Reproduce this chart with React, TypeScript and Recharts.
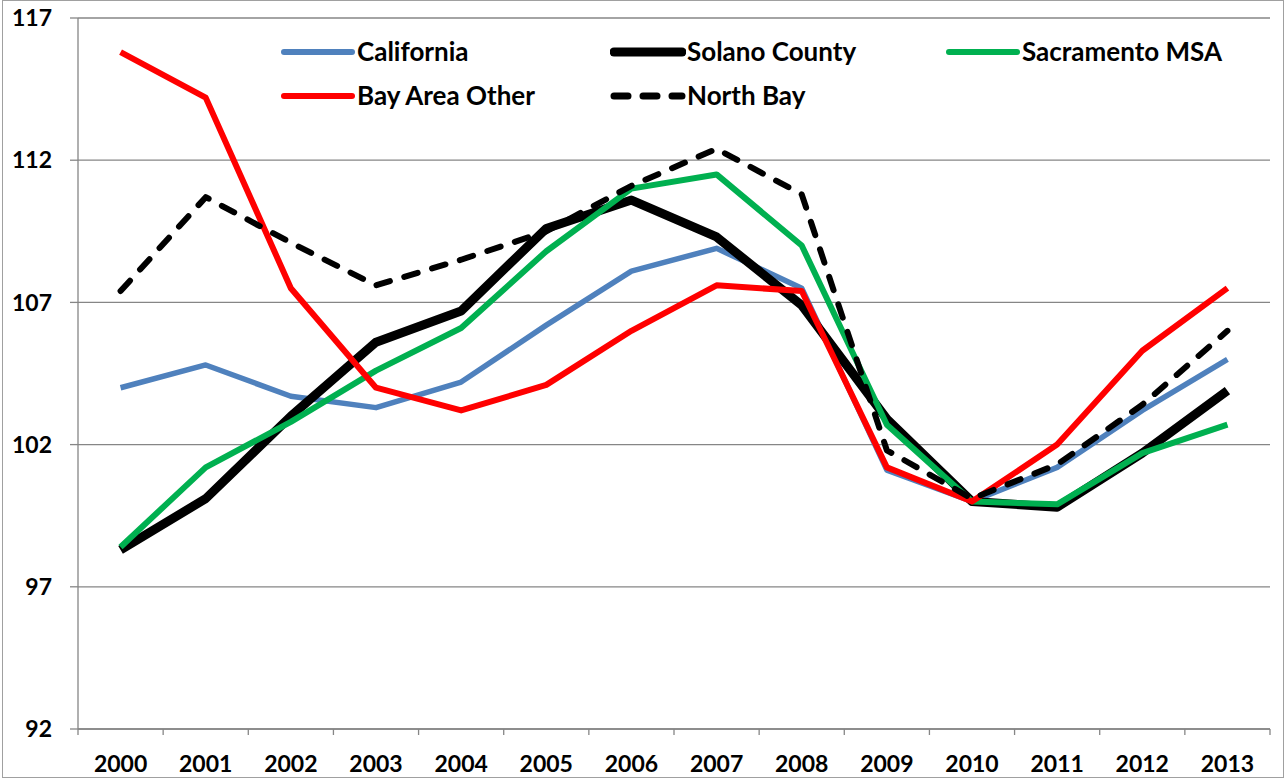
import React from "react";
import { LineChart, Line, XAxis, YAxis, CartesianGrid } from "recharts";

const years = ["2000", "2001", "2002", "2003", "2004", "2005", "2006", "2007", "2008", "2009", "2010", "2011", "2012", "2013"];
const california = [104.0, 104.8, 103.7, 103.3, 104.2, 106.2, 108.1, 108.9, 107.5, 101.1, 100.0, 101.2, 103.2, 105.0];
const solano = [98.3, 100.1, 103.0, 105.6, 106.7, 109.6, 110.6, 109.3, 106.9, 102.9, 100.0, 99.8, 101.7, 103.9];
const sacramento = [98.4, 101.2, 102.8, 104.6, 106.1, 108.8, 111.0, 111.5, 109.0, 102.7, 100.0, 99.9, 101.7, 102.7];
const bayAreaOther = [115.8, 114.2, 107.5, 104.0, 103.2, 104.1, 106.0, 107.6, 107.4, 101.2, 100.0, 102.0, 105.3, 107.5];
const northBay = [107.4, 110.7, 109.1, 107.6, 108.5, 109.5, 111.1, 112.4, 110.8, 101.8, 100.1, 101.3, 103.4, 106.0];
const yTicks = [92, 97, 102, 107, 112, 117];

const data = years.map((year, i) => ({
  year,
  california: california[i],
  solano: solano[i],
  sacramento: sacramento[i],
  bayAreaOther: bayAreaOther[i],
  northBay: northBay[i],
}));

const FONT = "Lato, 'Open Sans', sans-serif";
const AXIS = "#868686";
const W = 1288;
const H = 780;
const M = { top: 18, right: 18, bottom: 11, left: 8 };
const Y_W = 70;
const BAND = (W - M.left - M.right - Y_W) / years.length;

function XTick(props: any) {
  const { x, y, payload, index } = props;
  return (
    <g>
      <line x1={x - BAND / 2} x2={x - BAND / 2} y1={y} y2={y + 6} stroke={AXIS} strokeWidth={1.3} />
      {index === years.length - 1 && (
        <line x1={x + BAND / 2} x2={x + BAND / 2} y1={y} y2={y + 6} stroke={AXIS} strokeWidth={1.3} />
      )}
      <text x={x} y={y + 43} textAnchor="middle" fontFamily={FONT} fontWeight="bold" fontSize={23} fill="#000">
        {payload.value}
      </text>
    </g>
  );
}

const legendItems = [
  { name: "California", color: "#4F81BD", width: 6, dash: false, left: 280, top: 52 },
  { name: "Solano County", color: "#000", width: 9, dash: false, left: 610, top: 52 },
  { name: "Sacramento MSA", color: "#00B050", width: 6, dash: false, left: 945, top: 52 },
  { name: "Bay Area Other", color: "#FF0000", width: 6, dash: false, left: 280, top: 96 },
  { name: "North Bay", color: "#000", width: 7, dash: true, left: 610, top: 96 },
];

export default function App() {
  return (
    <div style={{ position: "absolute", left: 0, top: 0, width: W, height: H, background: "#fff" }}>
      <div style={{ position: "absolute", left: 2, top: 0, width: W - 6, height: H - 2, border: "1px solid #a0a0a0", boxSizing: "border-box" }} />
      <LineChart width={W} height={H} data={data} margin={M}>
        <CartesianGrid vertical={false} stroke={AXIS} strokeWidth={1.3} />
        <XAxis
          dataKey="year"
          stroke={AXIS}
          strokeWidth={1.3}
          tickLine={false}
          tickSize={0}
          tickMargin={0}
          height={40}
          tick={<XTick />}
          interval={0}
          padding={{ left: BAND / 2, right: BAND / 2 }}
        />
        <YAxis
          domain={[92, 117]}
          ticks={yTicks}
          width={Y_W}
          stroke={AXIS}
          strokeWidth={1.3}
          tickSize={8}
          tickMargin={18}
          tick={{ fill: "#000", fontFamily: FONT, fontWeight: "bold", fontSize: 23 }}
          allowDataOverflow
        />
        <Line dataKey="california" stroke="#4F81BD" strokeWidth={5.5} dot={false} isAnimationActive={false} strokeLinejoin="round" />
        <Line dataKey="solano" stroke="#000" strokeWidth={9} dot={false} isAnimationActive={false} strokeLinejoin="round" />
        <Line dataKey="sacramento" stroke="#00B050" strokeWidth={6} dot={false} isAnimationActive={false} strokeLinejoin="round" />
        <Line dataKey="bayAreaOther" stroke="#FF0000" strokeWidth={6} dot={false} isAnimationActive={false} strokeLinejoin="round" />
        <Line
          dataKey="northBay"
          stroke="#000"
          strokeWidth={6}
          strokeDasharray="14 15"
          strokeLinecap="round"
          dot={false}
          isAnimationActive={false}
          strokeLinejoin="round"
        />
      </LineChart>
      {legendItems.map((it) => (
        <div key={it.name} style={{ position: "absolute", left: it.left, top: it.top - 16, height: 30, display: "flex", alignItems: "center" }}>
          <svg width={76} height={30}>
            <line
              x1={4}
              x2={72}
              y1={16}
              y2={16}
              stroke={it.color}
              strokeWidth={it.width}
              strokeLinecap="round"
              strokeDasharray={it.dash ? "14 15" : undefined}
            />
          </svg>
          <span style={{ fontFamily: FONT, fontWeight: "bold", fontSize: 26, color: "#000", marginLeft: 1 }}>{it.name}</span>
        </div>
      ))}
    </div>
  );
}
